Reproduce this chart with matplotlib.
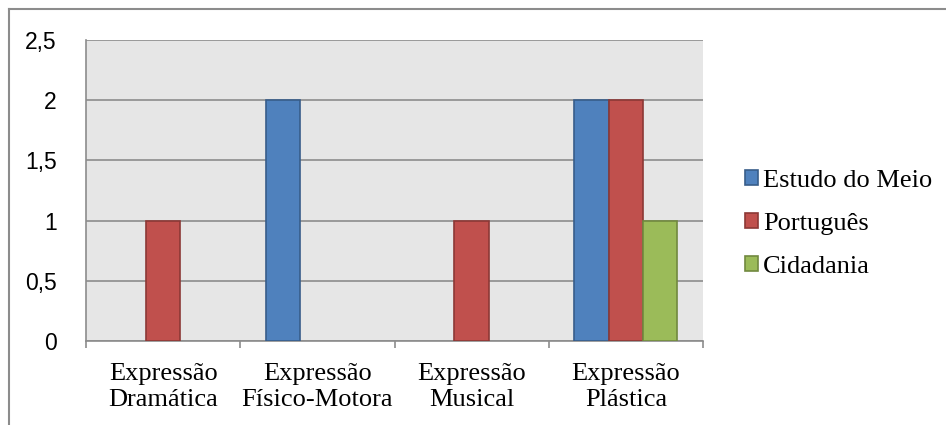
import numpy as np
import matplotlib.pyplot as plt
from matplotlib.lines import Line2D
from matplotlib.ticker import FuncFormatter

# Dados do gráfico
categorias = ['Expressão\nDramática', 'Expressão\nFísico-Motora', 'Expressão\nMusical', 'Expressão\nPlástica']
series = ['Estudo do Meio', 'Português', 'Cidadania']
estudo_do_meio = [0, 2, 0, 2]
portugues = [1, 0, 1, 2]
cidadania = [0, 0, 0, 1]
y_ticks = [0, 0.5, 1, 1.5, 2, 2.5]

cores = ['#4F81BD', '#C0504D', '#9BBB59']
bordas = ['#385D8A', '#8C3836', '#71893F']

fig = plt.figure(figsize=(9.46, 4.25), dpi=100)
ax = fig.add_axes([86 / 946, 1 - 341 / 425, (703 - 86) / 946, (341 - 40) / 425])
ax.set_facecolor('#E6E6E6')

x = np.arange(len(categorias))
w = 1 / 4.5
valores = [estudo_do_meio, portugues, cidadania]
for i, (nome, vals) in enumerate(zip(series, valores)):
    vals = np.array(vals, dtype=float)
    pos = x + (i - 1) * w
    mask = vals > 0
    ax.bar(pos[mask], vals[mask], width=w, color=cores[i], edgecolor=bordas[i],
           linewidth=1.2, label=nome, zorder=3)

ax.set_xlim(-0.5, len(categorias) - 0.5)
ax.set_ylim(0, 2.5)

# grelha horizontal
ax.set_yticks(y_ticks)
ax.yaxis.set_major_formatter(FuncFormatter(lambda v, p: ('%g' % v).replace('.', ',')))
ax.grid(axis='y', color='#8C8C8C', linewidth=1.2, zorder=1)
ax.tick_params(axis='y', length=0, pad=21, labelsize=16.5)
for lab in ax.get_yticklabels():
    lab.set_family('Liberation Sans')

# eixo x: marcas entre categorias, rótulos ao centro
ax.set_xticks(np.arange(-0.5, len(categorias)), minor=False)
ax.set_xticklabels([])
ax.set_xticks(x, minor=True)
ax.set_xticklabels(categorias, minor=True, family='Liberation Serif', fontsize=19,
                   linespacing=1.25)
ax.tick_params(axis='x', which='major', length=5, color='#8C8C8C', width=1.2)
ax.tick_params(axis='x', which='minor', length=0, pad=16)

for s in ['top', 'right']:
    ax.spines[s].set_visible(False)
for s in ['left', 'bottom']:
    ax.spines[s].set_color('#8C8C8C')
    ax.spines[s].set_linewidth(1.2)

# legenda
leg = fig.legend(loc='center left', bbox_to_anchor=(734 / 946, 1 - 224 / 425),
                 frameon=False, prop={'family': 'Liberation Serif', 'size': 19},
                 handlelength=0.5, handleheight=0.5, handletextpad=0.2,
                 labelspacing=0.8, borderaxespad=0)

# moldura exterior
fig.add_artist(Line2D([9 / 946, 9 / 946], [0, 1 - 9 / 425], transform=fig.transFigure,
                      color='#8C8C8C', linewidth=1.5))
fig.add_artist(Line2D([9 / 946, 1], [1 - 9 / 425, 1 - 9 / 425], transform=fig.transFigure,
                      color='#8C8C8C', linewidth=1.5))

fig.savefig('out.png', dpi=100)
